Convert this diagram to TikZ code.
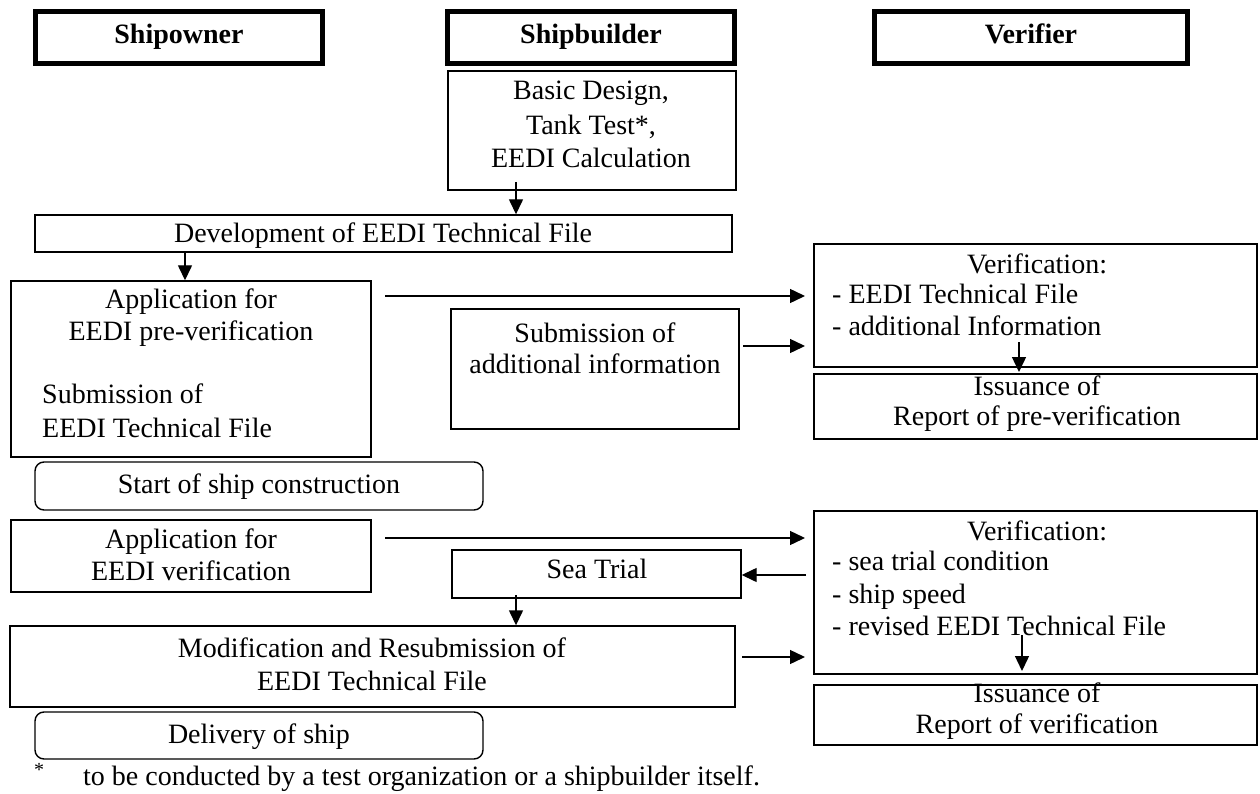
\documentclass[tikz,border=0pt]{standalone}
\usepackage{fontspec}
\setmainfont{Liberation Serif}
\usetikzlibrary{arrows.meta,fit}
\begin{document}
\begin{tikzpicture}[x=1pt,y=-1pt,
  box/.style={draw,line width=1.4pt,inner sep=0pt},
  rbox/.style={draw,line width=1.4pt,inner sep=0pt,rounded corners=9pt},
  head/.style={draw,line width=5pt,inner sep=0pt},
  txt/.style={inner sep=0pt,anchor=base,font=\fontsize{28}{32}\selectfont},
  ltxt/.style={inner sep=0pt,anchor=base west,font=\fontsize{28}{32}\selectfont},
  htxt/.style={inner sep=0pt,anchor=base,font=\fontsize{28}{32}\selectfont\bfseries},
  arr/.style={line width=1.4pt,-{Triangle[length=15pt,width=14pt]}}]
\useasboundingbox (0,0) rectangle (1260,794);
% headers
\node[head,fit={(35.5,11.5)(322.5,63.5)}] (h1) {};
\node[head,fit={(447.5,11.5)(734.5,63.5)}] (h2) {};
\node[head,fit={(874.5,11.5)(1187.5,63.5)}] (h3) {};
\node[htxt] (h1t) at (179,44) {Shipowner};
\node[htxt] (h2t) at (591,44) {Shipbuilder};
\node[htxt] (h3t) at (1031,44) {Verifier};
% boxes
\node[box,fit={(448,71)(736,190)}] (basic) {};
\node[box,fit={(35,215)(732,252)}] (dev) {};
\node[box,fit={(11,281)(371,457)}] (app1) {};
\node[rbox,fit={(35,462)(483,510)}] (start) {};
\node[box,fit={(451,309)(739,429)}] (sub) {};
\node[box,fit={(814,244)(1257,367)}] (ver1a) {};
\node[box,fit={(814,374)(1257,439)}] (ver1b) {};
\node[box,fit={(11,520)(371,592)}] (app2) {};
\node[box,fit={(452,550)(741,598)}] (sea) {};
\node[box,fit={(10,626)(735,707)}] (mod) {};
\node[rbox,fit={(35,712)(483,759)}] (deliv) {};
\node[box,fit={(814,511)(1257,674)}] (ver2a) {};
\node[box,fit={(814,685)(1257,745)}] (ver2b) {};
% texts
\node[txt] (b1) at (591,100) {Basic Design,};
\node[txt] (b2) at (591,135) {Tank Test*,};
\node[txt] (b3) at (591,168) {EEDI Calculation};
\node[txt] (d1) at (383,243) {Development of EEDI Technical File};
\node[txt] (p1) at (191,308) {Application for};
\node[txt] (p2) at (191,340) {EEDI pre-verification};
\node[ltxt] (p3) at (42,403) {Submission of};
\node[ltxt] (p4) at (42,437) {EEDI Technical File};
\node[txt] (s1) at (259,493) {Start of ship construction};
\node[txt] (u1) at (595,342) {Submission of};
\node[txt] (u2) at (595,373) {additional information};
\node[txt] (v1) at (1037,273) {Verification:};
\node[ltxt] (v2) at (832,303) {- EEDI Technical File};
\node[ltxt] (v3) at (832,335) {- additional Information};
\node[txt] (v4) at (1037,395) {Issuance of};
\node[txt] (v5) at (1037,425) {Report of pre-verification};
\node[txt] (q1) at (191,548) {Application for};
\node[txt] (q2) at (191,580) {EEDI verification};
\node[txt] (e1) at (597,578) {Sea Trial};
\node[txt] (m1) at (372,657) {Modification and Resubmission of};
\node[txt] (m2) at (372,690) {EEDI Technical File};
\node[txt] (l1) at (259,743) {Delivery of ship};
\node[txt] (w1) at (1037,540) {Verification:};
\node[ltxt] (w2) at (832,570) {- sea trial condition};
\node[ltxt] (w3) at (832,603) {- ship speed};
\node[ltxt] (w4) at (832,635) {- revised EEDI Technical File};
\node[txt] (w5) at (1037,702) {Issuance of};
\node[txt] (w6) at (1037,733) {Report of verification};
\node[inner sep=0pt,anchor=base,font=\fontsize{20}{20}\selectfont] (fs) at (39,776) {*};
\node[ltxt] (ft) at (83,785) {to be conducted by a test organization or a shipbuilder itself.};
% connector end points
\coordinate (c1) at (516,182);
\coordinate (c2) at (185,252);
\coordinate (c3) at (385,296);
\coordinate (c3e) at (805,296);
\coordinate (c4) at (743,346);
\coordinate (c4e) at (805,346);
\coordinate (c5) at (1019,342);
\coordinate (c5e) at (1019,372);
\coordinate (c6) at (385,538);
\coordinate (c6e) at (805,538);
\coordinate (c7) at (806,575);
\coordinate (c8) at (516,595);
\coordinate (c9) at (742,657);
\coordinate (c9e) at (805,657);
\coordinate (c10) at (1022,635);
\coordinate (c10e) at (1022,671);
% connectors
\draw[arr] (c1) -- (c1 |- dev.north);
\draw[arr] (c2) -- (c2 |- app1.north);
\draw[arr] (c3) -- (c3e);
\draw[arr] (c4) -- (c4e);
\draw[arr] (c5) -- (c5e);
\draw[arr] (c6) -- (c6e);
\draw[arr] (c7) -- (c7 -| sea.east);
\draw[arr] (c8) -- (c8 |- mod.north);
\draw[arr] (c9) -- (c9e);
\draw[arr] (c10) -- (c10e);
\end{tikzpicture}
\end{document}
